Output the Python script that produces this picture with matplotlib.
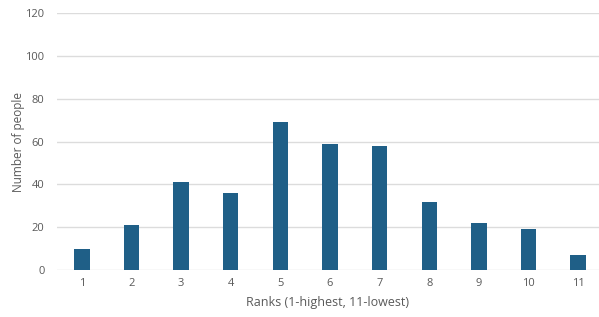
import numpy as np
import matplotlib.pyplot as plt

ranks = [str(i) for i in range(1, 12)]
people = [10, 21, 41, 36, 69, 59, 58, 32, 22, 19, 7]

plt.rcParams['font.family'] = ['Open Sans', 'DejaVu Sans']

fig = plt.figure(figsize=(5.99, 3.17), dpi=100)
ax = fig.add_axes([57 / 599, (317 - 270) / 317, 1 - 57 / 599, (270 - 13.3) / 317])

x = np.arange(1, 12)
ax.bar(x, people, width=0.31, color='#1f5f87', zorder=3)

ax.set_xlim(0.5, 11.42)
ax.set_ylim(0, 120)
ax.set_yticks(range(0, 121, 20))
ax.set_xticks(x)
ax.set_xticklabels(ranks)
ax.grid(axis='y', color='#dcdcdc', linewidth=1, zorder=0)
for s in ax.spines.values():
    s.set_visible(False)
ax.tick_params(length=0, colors='#595959', labelsize=8)
ax.tick_params(axis='y', pad=9)
ax.tick_params(axis='x', pad=6)

ax.set_ylabel('Number of people', fontsize=8.5, color='#595959')
ax.yaxis.set_label_coords((25 - 57) / 542, 0.5)
ax.set_xlabel('Ranks (1-highest, 11-lowest)', fontsize=9, color='#595959', labelpad=5)

fig.savefig('out.png', dpi=100)
